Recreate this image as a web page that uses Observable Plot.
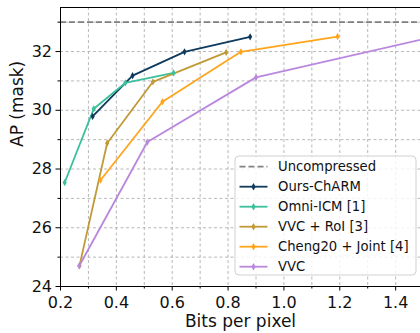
<!DOCTYPE html>
<html>
<head>
<meta charset="utf-8">
<script src="https://cdn.jsdelivr.net/npm/d3@7"></script>
<script src="https://cdn.jsdelivr.net/npm/@observablehq/plot@0.6"></script>
<style>
  html, body { margin: 0; padding: 0; background: #fff; }
  #chart { width: 420px; height: 333px; overflow: hidden; }
  svg { font-family: "DejaVu Sans", sans-serif; }
</style>
</head>
<body>
<div id="chart"></div>
<script>
// ---- data ----
const seriesNames = ["Ours-ChARM", "Omni-ICM [1]", "VVC + RoI [3]", "Cheng20 + Joint [4]", "VVC"];
const seriesColors = ["#0e3a5e", "#3cc09c", "#c09a36", "#ffa51c", "#b987de"];

const oursBpp = [0.315, 0.458, 0.644, 0.879];
const oursAP  = [29.79, 31.18, 31.99, 32.50];

const omniBpp = [0.215, 0.319, 0.432, 0.605];
const omniAP  = [27.54, 30.05, 30.93, 31.27];

const roiBpp = [0.268, 0.367, 0.531, 0.793];
const roiAP  = [24.71, 28.88, 30.97, 31.97];

const chengBpp = [0.343, 0.565, 0.846, 1.192];
const chengAP  = [27.62, 30.29, 31.99, 32.51];

const vvcBpp = [0.267, 0.511, 0.900, 1.52];
const vvcAP  = [24.70, 28.92, 31.12, 32.47];

const uncompressedAP = 33.0;
const uncompressedName = "Uncompressed";

const xMajorTicks = [0.2, 0.4, 0.6, 0.8, 1.0, 1.2, 1.4];
const xMinorTicks = [0.3, 0.5, 0.7, 0.9, 1.1, 1.3];
const xGrid = [0.2, 0.3, 0.4, 0.5, 0.6, 0.7, 0.8, 0.9, 1.0, 1.1, 1.2, 1.3, 1.4];
const yMajorTicks = [24, 26, 28, 30, 32];
const yMinorTicks = [25, 27, 29, 31, 33];
const yGrid = [25, 26, 27, 28, 29, 30, 31, 32, 33];

const xLabel = "Bits per pixel";
const yLabel = "AP (mask)";

// ---- build table ----
const allX = [oursBpp, omniBpp, roiBpp, chengBpp, vvcBpp];
const allY = [oursAP, omniAP, roiAP, chengAP, vvcAP];
const rows = [];
seriesNames.forEach((name, i) => {
  allX[i].forEach((x, j) => rows.push({series: name, bpp: x, ap: allY[i][j]}));
});

const font = "DejaVu Sans";
const gridStyle = {stroke: "#b0b0b0", strokeOpacity: 1, strokeDasharray: "3,2.5", strokeWidth: 0.9};

const chart = Plot.plot({
  width: 420,
  height: 333,
  marginLeft: 60,
  marginRight: 0,
  marginTop: 7,
  marginBottom: 47,
  style: {fontFamily: font, background: "white", color: "#111"},
  x: {domain: [0.2, 1.489], label: null},
  y: {domain: [24, 33.5], label: null},
  color: {domain: seriesNames, range: seriesColors},
  marks: [
    Plot.gridX(xGrid, gridStyle),
    Plot.gridY(yGrid, gridStyle),
    Plot.ruleY([uncompressedAP], {stroke: "#808080", strokeWidth: 1.8, strokeDasharray: "6,3"}),
    Plot.line(rows, {x: "bpp", y: "ap", z: "series", stroke: "series", strokeWidth: 1.8, clip: true}),
    Plot.dot(rows, {x: "bpp", y: "ap", fill: "series", symbol: "diamond", r: 2.2, clip: true}),
    Plot.ruleX([0.2], {stroke: "black", strokeWidth: 1}),
    Plot.ruleY([24, 33.5], {stroke: "black", strokeWidth: 1}),
    Plot.axisX({ticks: xMajorTicks, tickSize: 4.5, tickPadding: 6, tickFormat: d => d.toFixed(1), fontSize: 16, label: null, stroke: "black"}),
    Plot.axisX({ticks: xMinorTicks, tickSize: 2.5, tickFormat: () => "", label: null, stroke: "black"}),
    Plot.axisY({ticks: yMajorTicks, tickSize: 4.5, tickPadding: 4, tickFormat: d => String(d), fontSize: 16, label: null, stroke: "black"}),
    Plot.axisY({ticks: yMinorTicks, tickSize: 2.5, tickFormat: () => "", label: null, stroke: "black"}),
    Plot.text([xLabel], {frameAnchor: "bottom", dy: 40, fontSize: 17, fill: "#111"}),
    Plot.text([yLabel], {frameAnchor: "left", dx: -43, rotate: -90, fontSize: 17, fill: "#111"})
  ]
});

document.getElementById("chart").appendChild(chart);

// ---- legend (drawn inside the svg) ----
const svg = d3.select(chart);
const lg = svg.append("g").attr("font-family", font).attr("font-size", 13.2).attr("text-anchor", "start");
const boxX = 235, boxY = 156, boxW = 181, boxH = 119;
lg.append("rect")
  .attr("x", boxX).attr("y", boxY).attr("width", boxW).attr("height", boxH)
  .attr("rx", 4).attr("fill", "white").attr("fill-opacity", 0.82)
  .attr("stroke", "#d0d0d0").attr("stroke-width", 1);
const legendItems = [{name: uncompressedName, color: "#808080", dashed: true}]
  .concat(seriesNames.map((n, i) => ({name: n, color: seriesColors[i], dashed: false})));
legendItems.forEach((it, i) => {
  const cy = 166.7 + i * 20;
  lg.append("line")
    .attr("x1", 239.5).attr("x2", 267.5).attr("y1", cy).attr("y2", cy)
    .attr("stroke", it.color).attr("stroke-width", 1.8)
    .attr("stroke-dasharray", it.dashed ? "6,3" : null);
  if (!it.dashed) {
    lg.append("path")
      .attr("d", d3.symbol(d3.symbolDiamond, 16)())
      .attr("transform", `translate(253.5,${cy})`)
      .attr("fill", it.color);
  }
  lg.append("text")
    .attr("x", 278).attr("y", cy).attr("dy", "0.35em")
    .attr("text-anchor", "start")
    .attr("fill", "#111").text(it.name);
});
</script>
</body>
</html>
